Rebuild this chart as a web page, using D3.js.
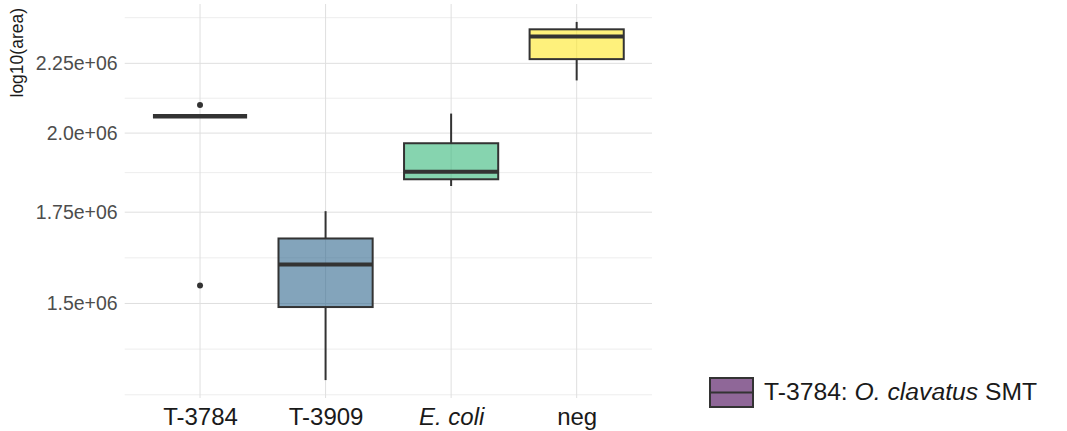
<!DOCTYPE html>
<html>
<head>
<meta charset="utf-8">
<script src="https://cdn.jsdelivr.net/npm/d3@7"></script>
<style>
  body { margin: 0; background: #ffffff; }
  svg { display: block; font-family: 'Liberation Sans', Arial, sans-serif; }
</style>
</head>
<body>
<div class="Chart"></div>
<script>
// Box statistics (area, log scale)
const categories = ['T-3784', 'T-3909', 'E. coli', 'neg'];
const italicCategories = ['E. coli'];
const whiskerLow = [2.058e6, 1.318e6, 1.829e6, 2.186e6];
const q1 = [2.058e6, 1.491e6, 1.850e6, 2.266e6];
const medians = [2.058e6, 1.602e6, 1.874e6, 2.354e6];
const q3 = [2.058e6, 1.674e6, 1.966e6, 2.383e6];
const whiskerHigh = [2.058e6, 1.753e6, 2.067e6, 2.413e6];
const outliers = [[2.097e6, 1.546e6], [], [], []];
const fills = ['#440154', '#31688E', '#35B779', '#FDE725'];

const yTicks = [1.5e6, 1.75e6, 2.0e6, 2.25e6];
const yTickLabels = ['1.5e+06', '1.75e+06', '2.0e+06', '2.25e+06'];
const yTitle = 'log10(area)';

// Only one legend entry shows in the reference
const legendParts = [
  { text: 'T-3784: ', italic: false },
  { text: 'O. clavatus', italic: true },
  { text: ' SMT', italic: false },
];

const width = 1067;
const height = 431;
const panel = { left: 124.7, right: 652, top: 4, bottom: 398 };

const svg = d3.select('.Chart').append('svg')
  .attr('width', width)
  .attr('height', height);

// y scale: log10, limits expanded 5% in log space like ggplot
const allValues = whiskerLow.concat(whiskerHigh, outliers.flat());
const logMin = Math.log10(d3.min(allValues));
const logMax = Math.log10(d3.max(allValues));
const pad = (logMax - logMin) * 0.05;
const y = d3.scaleLog()
  .domain([Math.pow(10, logMin - pad), Math.pow(10, logMax + pad)])
  .range([panel.bottom, panel.top]);

const x = d3.scalePoint()
  .domain(categories)
  .range([panel.left, panel.right])
  .padding(0.6);
const boxWidth = x.step() * 0.75;

// Minor breaks: midpoints between majors in log space, plus one step either side
const logTicks = yTicks.map(d => Math.log10(d));
const step = logTicks[1] - logTicks[0];
const extended = [logTicks[0] - step].concat(logTicks, [logTicks[logTicks.length - 1] + step]);
let minorTicks = [];
for (let i = 0; i < extended.length - 1; i++) {
  minorTicks.push(Math.pow(10, (extended[i] + extended[i + 1]) / 2));
}
minorTicks.push(Math.pow(10, extended[0]));
minorTicks = minorTicks.filter(d => y(d) >= panel.top && y(d) <= panel.bottom);

const grid = svg.append('g').attr('class', 'grid');

grid.selectAll('line.minor')
  .data(minorTicks)
  .enter().append('line')
  .attr('class', 'minor')
  .attr('x1', panel.left)
  .attr('x2', panel.right)
  .attr('y1', d => y(d))
  .attr('y2', d => y(d))
  .attr('stroke', '#ededed')
  .attr('stroke-width', 1);

grid.selectAll('line.major')
  .data(yTicks)
  .enter().append('line')
  .attr('class', 'major')
  .attr('x1', panel.left)
  .attr('x2', panel.right)
  .attr('y1', d => y(d))
  .attr('y2', d => y(d))
  .attr('stroke', '#dfdfdf')
  .attr('stroke-width', 1);

grid.selectAll('line.vert')
  .data(categories)
  .enter().append('line')
  .attr('class', 'vert')
  .attr('x1', d => x(d))
  .attr('x2', d => x(d))
  .attr('y1', panel.top)
  .attr('y2', panel.bottom)
  .attr('stroke', '#dfdfdf')
  .attr('stroke-width', 1);

// Boxplots
const boxes = svg.append('g').attr('class', 'boxes')
  .selectAll('g')
  .data(categories)
  .enter().append('g');

boxes.append('line')
  .attr('x1', d => x(d))
  .attr('x2', d => x(d))
  .attr('y1', (d, i) => y(whiskerHigh[i]))
  .attr('y2', (d, i) => y(q3[i]))
  .attr('stroke', '#333333')
  .attr('stroke-width', 2);

boxes.append('line')
  .attr('x1', d => x(d))
  .attr('x2', d => x(d))
  .attr('y1', (d, i) => y(q1[i]))
  .attr('y2', (d, i) => y(whiskerLow[i]))
  .attr('stroke', '#333333')
  .attr('stroke-width', 2);

boxes.append('rect')
  .attr('x', d => x(d) - boxWidth / 2)
  .attr('width', boxWidth)
  .attr('y', (d, i) => y(q3[i]))
  .attr('height', (d, i) => y(q1[i]) - y(q3[i]))
  .attr('fill', (d, i) => fills[i])
  .attr('fill-opacity', 0.6)
  .attr('stroke', '#333333')
  .attr('stroke-width', 2);

boxes.append('line')
  .attr('x1', d => x(d) - boxWidth / 2)
  .attr('x2', d => x(d) + boxWidth / 2)
  .attr('y1', (d, i) => y(medians[i]))
  .attr('y2', (d, i) => y(medians[i]))
  .attr('stroke', '#333333')
  .attr('stroke-width', (d, i) => q1[i] === q3[i] ? 4.5 : 4);

boxes.selectAll('circle')
  .data((d, i) => outliers[i].map(v => ({ cat: d, v: v })))
  .enter().append('circle')
  .attr('cx', d => x(d.cat))
  .attr('cy', d => y(d.v))
  .attr('r', 3)
  .attr('fill', '#333333');

// y axis labels
const yAxis = svg.append('g')
  .attr('transform', `translate(${panel.left - 7},0)`)
  .call(d3.axisLeft(y).tickValues(yTicks).tickSize(0).tickPadding(0)
    .tickFormat((d, i) => yTickLabels[i]));
yAxis.select('.domain').remove();
yAxis.selectAll('text')
  .attr('fill', '#4d4d4d')
  .attr('font-size', '19.5px')
  .attr('font-family', "'Liberation Sans', Arial, sans-serif");

// x axis labels
const xAxis = svg.append('g')
  .attr('transform', `translate(0,${panel.bottom})`)
  .call(d3.axisBottom(x).tickSize(0).tickPadding(0));
xAxis.select('.domain').remove();
xAxis.selectAll('text')
  .attr('y', 27)
  .attr('dy', 0)
  .attr('fill', '#1a1a1a')
  .attr('font-size', '24px')
  .attr('font-family', "'Liberation Sans', Arial, sans-serif")
  .attr('font-style', d => italicCategories.includes(d) ? 'italic' : 'normal');

// y title, placed at the top of the axis
svg.append('text')
  .attr('transform', 'translate(22.5,8) rotate(-90)')
  .attr('text-anchor', 'end')
  .attr('font-size', '17.5px')
  .attr('fill', '#1a1a1a')
  .text(yTitle);

// Legend
const legend = svg.append('g')
  .attr('transform', 'translate(710,378)');

legend.append('rect')
  .attr('width', 43)
  .attr('height', 29)
  .attr('fill', fills[0])
  .attr('fill-opacity', 0.6)
  .attr('stroke', '#333333')
  .attr('stroke-width', 2);

legend.append('line')
  .attr('x1', 0)
  .attr('x2', 43)
  .attr('y1', 14.5)
  .attr('y2', 14.5)
  .attr('stroke', '#333333')
  .attr('stroke-width', 2);

const legendText = legend.append('text')
  .attr('x', 54)
  .attr('y', 21.5)
  .attr('font-size', '24.7px')
  .attr('fill', '#1a1a1a');

legendText.selectAll('tspan')
  .data(legendParts)
  .enter().append('tspan')
  .attr('font-style', d => d.italic ? 'italic' : 'normal')
  .text(d => d.text);
</script>
</body>
</html>
